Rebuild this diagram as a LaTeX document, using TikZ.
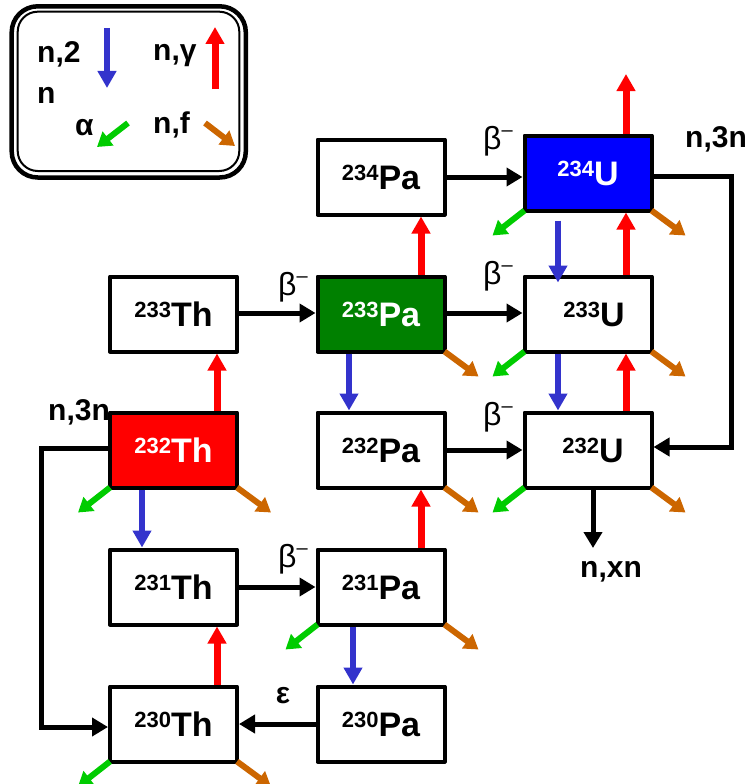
\documentclass[tikz,border=0pt]{standalone}
\usepackage{fontspec}
\setmainfont{Liberation Sans}
\usetikzlibrary{arrows.meta,calc}
\definecolor{bxblue}{RGB}{0,0,255}
\definecolor{bxgreen}{RGB}{0,128,0}
\definecolor{bxred}{RGB}{255,0,0}
\definecolor{arblue}{RGB}{51,51,204}
\definecolor{argreen}{RGB}{0,204,0}
\definecolor{arorange}{RGB}{204,102,0}
\definecolor{arred}{RGB}{255,0,0}
\newcommand\nuc[2]{\raisebox{9pt}{\fontsize{22}{22}\selectfont #1}{\fontsize{34}{34}\selectfont #2}}
\newcommand\betam{β\raisebox{13pt}{\fontsize{20}{20}\selectfont –}}
\begin{document}
\begin{tikzpicture}[x=1pt,y=-1pt,
  nbox/.style={draw=black, line width=4pt, minimum width=127pt, minimum height=75pt, inner sep=0pt, fill=white, font=\bfseries, line join=round},
  blk/.style={line width=5pt, -{Triangle[length=16pt,width=18pt]}},
  ngam/.style={draw=arred, line width=7pt, -{Triangle[length=17pt,width=18pt]}},
  n2n/.style={draw=arblue, line width=6pt, -{Triangle[length=17pt,width=18pt]}},
  alf/.style={draw=argreen, line width=6pt, -{Triangle[length=14pt,width=17pt]}},
  fis/.style={draw=arorange, line width=6pt, -{Triangle[length=14pt,width=17pt]}},
  lbl/.style={font=\bfseries\fontsize{30}{30}\selectfont, inner sep=0pt},
  blbl/.style={font=\fontsize{32}{32}\selectfont, inner sep=0pt},
]
\useasboundingbox (0,0) rectangle (754,784);

% legend
\draw[line width=4.5pt, rounded corners=26pt] (11.7,6.3) rectangle (245.8,177.5);
\draw[line width=2pt, rounded corners=20pt] (17.7,11.7) rectangle (239.3,171);
\node[lbl, anchor=base west] (l1) at (37,63) {n,2};
\node[lbl, anchor=base west] (l2) at (37,103) {n};
\node[lbl, anchor=base west] (l3) at (153,60) {n,γ};
\node[lbl, anchor=base west] (l4) at (153,133) {n,f};
\node[lbl, anchor=base west] (l5) at (75,135) {α};
\coordinate (lb1) at (107,28); \coordinate (lb2) at (107,88);
\coordinate (lr1) at (215,89); \coordinate (lr2) at (215,27);
\coordinate (lg1) at (128,123); \coordinate (lg2) at (97,147);
\coordinate (lo1) at (205,123); \coordinate (lo2) at (235,146);
\draw[n2n] (lb1) -- (lb2);
\draw[ngam] (lr1) -- (lr2);
\draw[alf] (lg1) -- (lg2);
\draw[fis] (lo1) -- (lo2);

% labels
\node[blbl] (b1) at (498,141) {\betam};
\node[blbl] (b2) at (498,276) {\betam};
\node[blbl] (b3) at (293,287) {\betam};
\node[blbl] (b4) at (498,417) {\betam};
\node[blbl] (b5) at (293,559) {\betam};
\node[lbl] (eps) at (283,696) {ε};
\node[lbl, anchor=base west] (n3nr) at (685,147) {n,3n};
\node[lbl, anchor=base west] (n3nl) at (48,420) {n,3n};
\node[lbl, anchor=base west] (nxnl) at (580,577) {n,xn};

% boxes
\node[nbox] (pa234) at (381,177) {\nuc{234}{Pa}};
\node[nbox, fill=bxblue, text=white] (u234) at (588,173) {\nuc{234}{U}};
\node[nbox] (th233) at (173.5,314) {\nuc{233}{Th}};
\node[nbox, fill=bxgreen, text=white] (pa233) at (381,314) {\nuc{233}{Pa}};
\node[nbox] (u233) at (588,314) {\hspace*{12pt}\nuc{233}{U}};
\node[nbox, fill=bxred, text=white] (th232) at (173.5,450) {\nuc{232}{Th}};
\node[nbox] (pa232) at (381,450) {\nuc{232}{Pa}};
\node[nbox] (u232) at (588,450) {\hspace*{10pt}\nuc{232}{U}};
\node[nbox] (th231) at (173.5,587) {\nuc{231}{Th}};
\node[nbox] (pa231) at (381,587) {\nuc{231}{Pa}};
\node[nbox] (th230) at (173.5,724) {\nuc{230}{Th}};
\node[nbox] (pa230) at (381,724) {\nuc{230}{Pa}};

% black arrows
\draw[blk] (pa234.east) -- (pa234.east -| u234.west);
\draw[blk] ([yshift=1pt]th233.east) -- ([yshift=1pt]pa233.west);
\draw[blk] ([yshift=1pt]pa233.east) -- ([yshift=1pt]u233.west);
\draw[blk] (pa232.east) -- (u232.west);
\draw[blk] (th231.east) -- (pa231.west);
\draw[blk] (pa230.west) -- (th230.east);
\coordinate (r3n) at (731,0);
\draw[blk] ([yshift=-3pt]u234.east) -- ([yshift=-3pt]u234.east -| r3n) -- ([yshift=3pt]u232.east -| r3n) -- ([yshift=3pt]u232.east);
\coordinate (l3n) at (41,0);
\draw[blk] ([yshift=2pt]th232.west) -- ([yshift=2pt]th232.west -| l3n) -- ([yshift=-3pt]th230.west -| l3n) -- ([yshift=-3pt]th230.west);
\coordinate (nxn) at (593,548);
\draw[blk] (u232.south -| nxn) -- (nxn);

% n,gamma
\draw[ngam] ([xshift=43.5pt]th232.north) -- ([xshift=43.5pt]th233.south);
\draw[ngam] ([xshift=40pt]pa233.north) -- ([xshift=40pt]pa234.south);
\draw[ngam] ([xshift=38pt]u233.north) -- ([xshift=38pt]u234.south);
\draw[ngam] ([xshift=38pt]u232.north) -- ([xshift=38pt]u233.south);
\draw[ngam] ([xshift=40pt]pa231.north) -- ([xshift=40pt]pa232.south);
\draw[ngam] ([xshift=43.5pt]th230.north) -- ([xshift=43.5pt]th231.south);
\coordinate (gtop) at (626,74);
\draw[ngam] (u234.north -| gtop) -- (gtop);

% n,2n
\draw[n2n] ([xshift=-30pt,yshift=-8pt]u234.south) -- ([xshift=-30pt,yshift=-8pt]u233.north);
\draw[n2n] ([xshift=-30pt]u233.south) -- ([xshift=-30pt]u232.north);
\draw[n2n] ([xshift=-32pt]pa233.south) -- ([xshift=-32pt]pa232.north);
\draw[n2n] ([xshift=-31.5pt]th232.south) -- ([xshift=-31.5pt]th231.north);
\draw[n2n] ([xshift=-28pt]pa231.south) -- ([xshift=-28pt]pa230.north);

% alpha
\foreach \b in {u234,u233,u232,th232,pa231,th230}
  \draw[alf] ([shift={(2,-2)}]\b.south west) -- ++(-32,25);
% fission
\foreach \b in {u234,u233,u232,pa233,pa232,th232,pa231,th230}
  \draw[fis] ([shift={(-2,-2)}]\b.south east) -- ++(34,25);
\end{tikzpicture}
\end{document}
